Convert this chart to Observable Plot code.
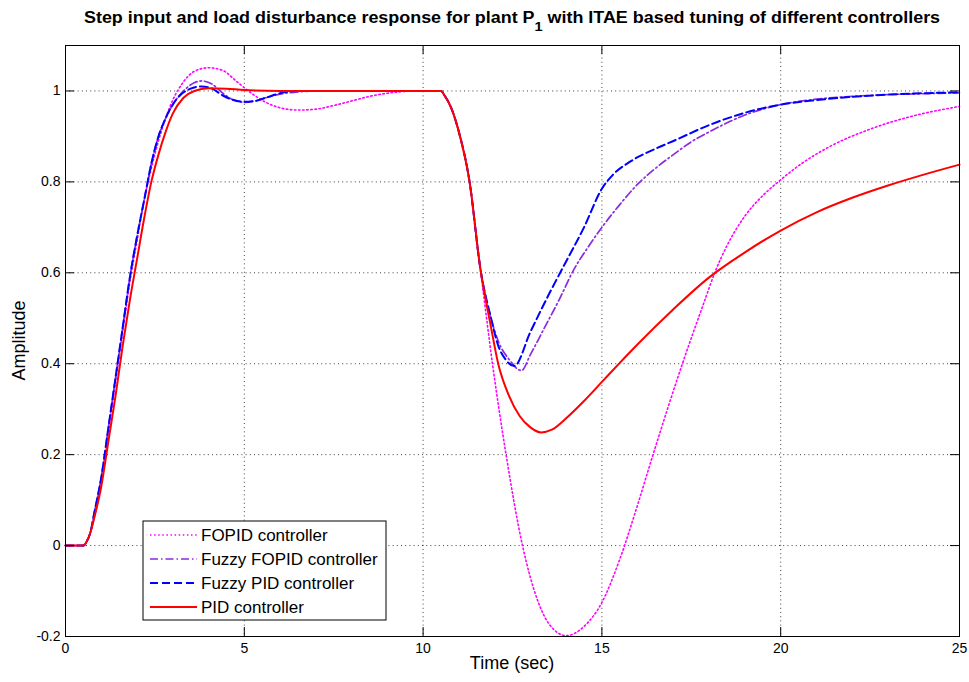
<!DOCTYPE html>
<html>
<head>
<meta charset="utf-8">
<script src="https://cdn.jsdelivr.net/npm/d3@7"></script>
<script src="https://cdn.jsdelivr.net/npm/@observablehq/plot@0.6"></script>
<style>
  html, body { margin: 0; padding: 0; background: #fff; }
  svg { display: block; }
</style>
</head>
<body>
<div id="chart"></div>
<script>
// ---------------- data ----------------
const seriesNames = ["FOPID controller", "Fuzzy FOPID controller", "Fuzzy PID controller", "PID controller"];

const fopidT = [0, 0.5, 0.6, 0.7, 0.8, 1.0, 1.2, 1.4, 1.6, 1.8, 2.0, 2.2, 2.4, 2.6, 2.8, 3.0, 3.3, 3.6, 4.0, 4.4, 4.8, 5.2, 5.6, 6.0, 6.5, 7.0, 7.5, 8.0, 8.5, 9.0, 9.5, 10.0, 10.5,
  10.6, 10.8, 11.0, 11.3, 11.6, 11.94, 12.32, 12.78, 13.2, 13.5, 14.0, 14.5, 15.0, 15.5, 16.0, 16.43, 17.26, 17.87, 18.17, 18.5, 19.0, 19.5, 19.93, 20.58, 21.38, 22.57, 23.7, 25.0];
const fopidY = [0, 0, 0.01, 0.03, 0.06, 0.14, 0.25, 0.36, 0.47, 0.58, 0.67, 0.76, 0.83, 0.89, 0.94, 0.98, 1.02, 1.043, 1.051, 1.045, 1.02, 0.995, 0.975, 0.963, 0.958, 0.96, 0.968, 0.978, 0.988, 0.995, 0.999, 1.0, 1.0,
  0.99, 0.96, 0.91, 0.80, 0.61, 0.40, 0.20, 0.0, -0.12, -0.17, -0.198, -0.178, -0.125, -0.03, 0.09, 0.2, 0.402, 0.538, 0.603, 0.66, 0.725, 0.77, 0.80, 0.84, 0.878, 0.918, 0.945, 0.966];

const fuzzyFopidT = [0, 0.5, 0.6, 0.7, 0.8, 1.0, 1.2, 1.4, 1.6, 1.8, 2.0, 2.2, 2.4, 2.6, 2.8, 3.0, 3.3, 3.6, 3.8, 4.1, 4.4, 4.7, 5.0, 5.3, 5.6, 6.0, 6.5, 7.0, 10.5,
  10.6, 10.8, 11.0, 11.3, 11.6, 11.9, 12.1, 12.4, 12.75, 13.0, 13.4, 13.8, 14.2, 14.6, 15.0, 15.5, 16.0, 16.5, 17.0, 17.5, 18.0, 18.5, 19.0, 20.0, 21.0, 22.0, 23.0, 24.0, 25.0];
const fuzzyFopidY = [0, 0, 0.01, 0.03, 0.07, 0.15, 0.26, 0.37, 0.48, 0.59, 0.68, 0.76, 0.84, 0.9, 0.94, 0.97, 1.0, 1.018, 1.022, 1.015, 0.995, 0.98, 0.975, 0.978, 0.985, 0.993, 0.998, 1.0, 1.0,
  0.99, 0.96, 0.91, 0.80, 0.61, 0.50, 0.45, 0.41, 0.385, 0.42, 0.48, 0.54, 0.605, 0.655, 0.70, 0.75, 0.795, 0.83, 0.86, 0.888, 0.91, 0.93, 0.947, 0.97, 0.982, 0.988, 0.992, 0.994, 0.996];

const fuzzyPidT = [0, 0.5, 0.6, 0.7, 0.8, 1.0, 1.2, 1.4, 1.6, 1.8, 2.0, 2.2, 2.4, 2.6, 2.8, 3.0, 3.2, 3.5, 3.8, 4.1, 4.4, 4.7, 5.0, 5.3, 5.6, 6.0, 6.5, 7.0, 10.5,
  10.6, 10.8, 11.0, 11.3, 11.6, 11.9, 12.1, 12.3, 12.55, 13.0, 13.5, 14.0, 14.5, 15.0, 15.3, 15.8, 16.5, 17.0, 18.0, 19.0, 20.0, 21.0, 22.0, 23.0, 24.0, 25.0];
const fuzzyPidY = [0, 0, 0.01, 0.03, 0.07, 0.15, 0.26, 0.37, 0.48, 0.59, 0.68, 0.76, 0.84, 0.9, 0.94, 0.97, 0.99, 1.005, 1.01, 1.005, 0.99, 0.98, 0.976, 0.978, 0.985, 0.995, 1.0, 1.0, 1.0,
  0.99, 0.96, 0.91, 0.80, 0.61, 0.50, 0.44, 0.41, 0.395, 0.47, 0.55, 0.625, 0.70, 0.785, 0.815, 0.845, 0.873, 0.89, 0.925, 0.952, 0.97, 0.98, 0.987, 0.992, 0.995, 0.997];

const pidT = [0, 0.5, 0.6, 0.7, 0.8, 1.0, 1.2, 1.4, 1.6, 1.8, 2.0, 2.2, 2.4, 2.6, 2.8, 3.0, 3.3, 3.6, 4.0, 4.5, 5.0, 6.0, 10.5,
  10.6, 10.8, 11.0, 11.3, 11.6, 11.9, 12.1, 12.4, 12.7, 13.0, 13.3, 13.6, 14.0, 14.5, 15.0, 15.5, 16.0, 17.0, 18.0, 19.0, 20.0, 21.0, 22.0, 23.0, 24.0, 25.0];
const pidY = [0, 0, 0.01, 0.03, 0.06, 0.13, 0.23, 0.33, 0.44, 0.54, 0.63, 0.72, 0.80, 0.86, 0.91, 0.95, 0.985, 1.0, 1.006, 1.005, 1.002, 1.0, 1.0,
  0.99, 0.96, 0.91, 0.80, 0.61, 0.48, 0.40, 0.33, 0.285, 0.26, 0.249, 0.255, 0.28, 0.318, 0.36, 0.402, 0.443, 0.52, 0.59, 0.645, 0.693, 0.733, 0.765, 0.792, 0.816, 0.838];

const xTicks = [0, 5, 10, 15, 20, 25];
const xTickLabels = ["0", "5", "10", "15", "20", "25"];
const yTicks = [-0.2, 0, 0.2, 0.4, 0.6, 0.8, 1];
const yTickLabels = ["-0.2", "0", "0.2", "0.4", "0.6", "0.8", "1"];

const titleMain = "Step input and load disturbance response for plant P";
const titleSub = "1";
const titleRest = " with ITAE based tuning of different controllers";
const xLabel = "Time (sec)";
const yLabel = "Amplitude";

// ---------------- styles ----------------
const styles = [
  {stroke: "#ff00ff", width: 1.6, dash: "1.5,2.6"},
  {stroke: "#8a2be2", width: 1.7, dash: "8,3,1.5,3"},
  {stroke: "#0000ff", width: 2, dash: "8,4"},
  {stroke: "#ff0000", width: 2, dash: null}
];

const rows = (name, ts, vs) => ts.map((t, i) => ({series: name, t, v: vs[i]}));
const datasets = [
  rows(seriesNames[0], fopidT, fopidY),
  rows(seriesNames[1], fuzzyFopidT, fuzzyFopidY),
  rows(seriesNames[2], fuzzyPidT, fuzzyPidY),
  rows(seriesNames[3], pidT, pidY)
];

const W = 969, H = 682, mL = 65, mR = 10, mT = 45, mB = 46;
const innerW = W - mL - mR, innerH = H - mT - mB;
const tickLen = 9;
const FONT = "'Liberation Sans', Arial, Helvetica, sans-serif";

const lineMarks = datasets.map((d, i) => Plot.line(d, {
  x: "t", y: "v", curve: "monotone-x",
  stroke: styles[i].stroke, strokeWidth: styles[i].width,
  strokeDasharray: styles[i].dash, strokeLinejoin: "round"
}));

const plot = Plot.plot({
  width: W, height: H,
  marginLeft: mL, marginRight: mR, marginTop: mT, marginBottom: mB,
  style: {fontFamily: FONT, fontSize: "14px", color: "#000", background: "#fff", overflow: "visible"},
  x: {domain: [0, 25]},
  y: {domain: [-0.2, 1.1]},
  marks: [
    Plot.ruleX(xTicks.slice(1, -1), {stroke: "#000", strokeOpacity: 0.75, strokeDasharray: "1,3.2"}),
    Plot.ruleY(yTicks.slice(1), {stroke: "#000", strokeOpacity: 0.75, strokeDasharray: "1,3.2"}),
    ...lineMarks,
    Plot.frame({stroke: "#000", strokeWidth: 1}),
    // inward tick marks on all four sides
    Plot.ruleX(xTicks, {stroke: "#000", insetTop: innerH - tickLen}),
    Plot.ruleX(xTicks, {stroke: "#000", insetBottom: innerH - tickLen}),
    Plot.ruleY(yTicks, {stroke: "#000", insetRight: innerW - tickLen}),
    Plot.ruleY(yTicks, {stroke: "#000", insetLeft: innerW - tickLen}),
    Plot.axisX({ticks: xTicks, tickFormat: d => xTickLabels[xTicks.indexOf(d)], tickSize: 0, tickPadding: 7, label: null, fontSize: 14}),
    Plot.axisY({ticks: yTicks, tickFormat: d => yTickLabels[yTicks.findIndex(v => Math.abs(v - d) < 1e-9)], tickSize: 0, tickPadding: 5, label: null, fontSize: 14})
  ]
});

document.getElementById("chart").appendChild(plot);

const svg = d3.select(plot);

// Title (bold, condensed to the reference width)
const title = svg.append("text")
  .attr("font-family", FONT).attr("font-weight", "bold").attr("font-size", 16)
  .attr("text-anchor", "start").attr("fill", "#000");
title.append("tspan").text(titleMain);
title.append("tspan").attr("dy", 8).attr("font-size", 13).text(titleSub);
title.append("tspan").attr("dy", -8).text(titleRest);
const tw = title.node().getBBox().width;
const targetW = 857;
title.attr("transform", `translate(84,23) scale(${targetW / tw},1)`);

// Axis labels
svg.append("text").attr("font-family", FONT).attr("font-size", 18).attr("fill", "#000")
  .attr("text-anchor", "middle").attr("x", mL + innerW / 2).attr("y", 669).text(xLabel);
svg.append("text").attr("font-family", FONT).attr("font-size", 18).attr("fill", "#000")
  .attr("text-anchor", "middle")
  .attr("transform", `translate(25,${mT + innerH / 2}) rotate(-90)`).text(yLabel);

// Legend
const lg = svg.append("g");
lg.append("rect").attr("x", 143).attr("y", 521).attr("width", 243).attr("height", 99)
  .attr("fill", "#fff").attr("stroke", "#000").attr("stroke-width", 1);
seriesNames.forEach((name, i) => {
  const yy = 535 + i * 24;
  lg.append("line").attr("x1", 150).attr("x2", 197).attr("y1", yy).attr("y2", yy)
    .attr("stroke", styles[i].stroke).attr("stroke-width", styles[i].width)
    .attr("stroke-dasharray", styles[i].dash);
  lg.append("text").attr("x", 201).attr("y", yy + 6).attr("font-family", FONT)
    .attr("text-anchor", "start")
    .attr("font-size", 17).attr("fill", "#000").text(name);
});
</script>
</body>
</html>
